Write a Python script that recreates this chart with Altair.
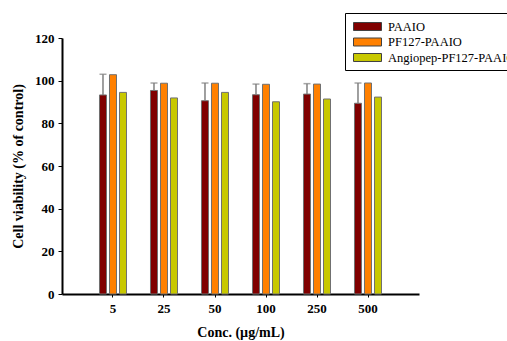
import altair as alt
import pandas as pd

concs = ["5", "25", "50", "100", "250", "500"]
series = ["PAAIO", "PF127-PAAIO", "Angiopep-PF127-PAAIO"]
paaio = [93.3, 95.4, 90.6, 93.4, 93.7, 89.4]
paaio_err_top = [103.0, 98.9, 98.9, 98.4, 98.6, 98.9]
pf127 = [102.8, 98.8, 98.8, 98.3, 98.4, 98.9]
angio = [94.5, 91.9, 94.5, 90.1, 91.4, 92.3]
colors = ["#800000", "#FF8000", "#C8C800"]

rows = []
for i, c in enumerate(concs):
    rows.append({"conc": c, "series": series[0], "value": paaio[i]})
    rows.append({"conc": c, "series": series[1], "value": pf127[i]})
    rows.append({"conc": c, "series": series[2], "value": angio[i]})
df = pd.DataFrame(rows)
err = pd.DataFrame({"conc": concs, "series": series[0], "value": paaio, "top": paaio_err_top})

FONT = "Liberation Serif"

xscale = alt.Scale(domain=concs, paddingInner=0.47, paddingOuter=0.735)
xoff = alt.Scale(domain=series, paddingInner=0.3, paddingOuter=0)

x = alt.X("conc:N", scale=xscale, sort=concs,
          axis=alt.Axis(title="Conc. (µg/mL)", labelAngle=0, tickSize=3, labelPadding=5,
                        titlePadding=10, domainWidth=2, domainColor="black", tickColor="black",
                        labelFontWeight="bold", titleFontWeight="bold"))
y = alt.Y("value:Q", scale=alt.Scale(domain=[0, 120], nice=False),
          axis=alt.Axis(title="Cell viability (% of control)", values=[0, 20, 40, 60, 80, 100, 120],
                        tickSize=4, labelPadding=4, titlePadding=9, grid=False, domainWidth=2,
                        domainColor="black", tickColor="black",
                        labelFontWeight="bold", titleFontWeight="bold"))

bars = alt.Chart(df).mark_bar(stroke="#707070", strokeWidth=1).encode(
    x=x,
    xOffset=alt.XOffset("series:N", scale=xoff, sort=series),
    y=y,
    color=alt.Color("series:N", sort=series,
                    scale=alt.Scale(domain=series, range=colors),
                    legend=alt.Legend(title=None, orient="none", legendX=283, legendY=-25,
                                      strokeColor="black", padding=6,
                                      symbolType="M-2,-0.57L2,-0.57L2,0.57L-2,0.57Z",
                                      symbolSize=196, symbolStrokeColor="#404040",
                                      symbolStrokeWidth=1, rowPadding=1.5, symbolOffset=9,
                                      labelOffset=13, labelLimit=400,
                                      labelFontSize=12.5, labelFont=FONT, labelColor="black")),
)

rule = alt.Chart(err).mark_rule(color="#808080", strokeWidth=1.5).encode(
    x=alt.X("conc:N", scale=xscale, sort=concs),
    xOffset=alt.XOffset("series:N", scale=xoff, sort=series),
    y=alt.Y("value:Q"),
    y2=alt.Y2("top:Q"),
)
cap = alt.Chart(err).mark_tick(color="#808080", thickness=1.5, size=7).encode(
    x=alt.X("conc:N", scale=xscale, sort=concs),
    xOffset=alt.XOffset("series:N", scale=xoff, sort=series),
    y=alt.Y("top:Q"),
)

chart = alt.layer(bars, rule, cap).properties(
    width=357, height=256,
    autosize=alt.AutoSizeParams(type="none"),
    padding={"left": 62, "top": 38, "right": 88, "bottom": 47},
).configure_view(stroke=None).configure_axis(
    labelFont=FONT, titleFont=FONT, labelFontSize=13, titleFontSize=14, labelColor="black",
    titleColor="black"
).configure_legend(labelFont=FONT, strokeWidth=1)

chart.save("out.html", embed_options={"renderer": "svg", "actions": False})
